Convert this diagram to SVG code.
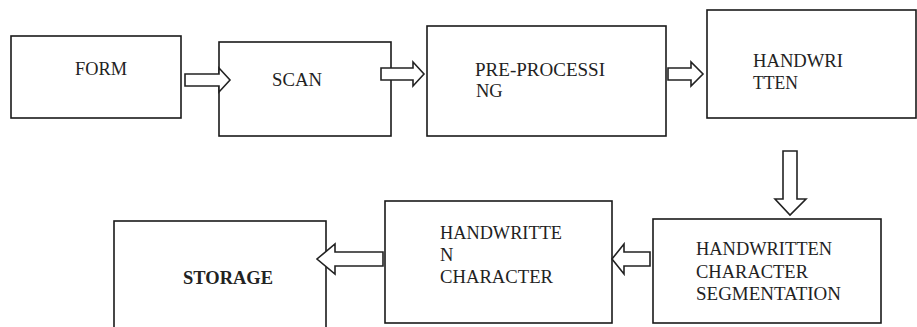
<svg xmlns="http://www.w3.org/2000/svg" width="917" height="327" viewBox="0 0 917 327">
<style>
.box{fill:#fff;stroke:#1a1a1a;stroke-width:1.6}
.arr{fill:#fff;stroke:#222;stroke-width:1.6;stroke-linejoin:miter}
text{font-size:18.5px;fill:#222}
.b{font-weight:bold}
</style>
<rect width="917" height="327" fill="#fff"/>
<g font-family="Liberation Serif, DejaVu Serif, serif">
<g id="form"><rect class="box" x="11" y="36" width="170" height="82"/><text x="75" y="75" textLength="52" lengthAdjust="spacingAndGlyphs">FORM</text></g>
<g id="scan"><rect class="box" x="219" y="42" width="172" height="94"/><text x="272" y="86" textLength="50" lengthAdjust="spacingAndGlyphs">SCAN</text></g>
<g id="preprocessing"><rect class="box" x="427" y="26" width="239" height="110"/><text x="475" y="76" textLength="130" lengthAdjust="spacingAndGlyphs">PRE-PROCESSI</text><text x="476" y="97">NG</text></g>
<g id="handwritten"><rect class="box" x="707" y="10" width="209" height="108"/><text x="753" y="67" textLength="90" lengthAdjust="spacingAndGlyphs">HANDWRI</text><text x="753" y="89" textLength="45" lengthAdjust="spacingAndGlyphs">TTEN</text></g>
<g id="segmentation"><rect class="box" x="653" y="219" width="228" height="104"/><text x="696" y="255" textLength="136" lengthAdjust="spacingAndGlyphs">HANDWRITTEN</text><text x="696" y="278" textLength="112" lengthAdjust="spacingAndGlyphs">CHARACTER</text><text x="696" y="300" textLength="145" lengthAdjust="spacingAndGlyphs">SEGMENTATION</text></g>
<g id="character"><rect class="box" x="385" y="201" width="227" height="122"/><text x="440" y="239" textLength="122" lengthAdjust="spacingAndGlyphs">HANDWRITTE</text><text x="440" y="261">N</text><text x="440" y="283" textLength="113" lengthAdjust="spacingAndGlyphs">CHARACTER</text></g>
<g id="storage"><rect class="box" x="114" y="221" width="212" height="120"/><text class="b" x="183" y="284" textLength="90" lengthAdjust="spacingAndGlyphs">STORAGE</text></g>
</g>
<g id="connectors">
<polygon class="arr" points="185,74 219,74 219,68 230,80 219,92 219,86 185,86"/>
<polygon class="arr" points="381,68 413,68 413,62 424,74 413,86 413,80 381,80"/>
<polygon class="arr" points="668,68 691,68 691,62 703,74 691,86 691,80 668,80"/>
<polygon class="arr" points="783,151 797,151 797,199 806,199 790,215 775,199 783,199"/>
<polygon class="arr" points="650,252 624,252 624,244 612,259 624,274 624,266 650,266"/>
<polygon class="arr" points="383,252 335,252 335,244 317,259 335,274 335,266 383,266"/>
</g>
</svg>
